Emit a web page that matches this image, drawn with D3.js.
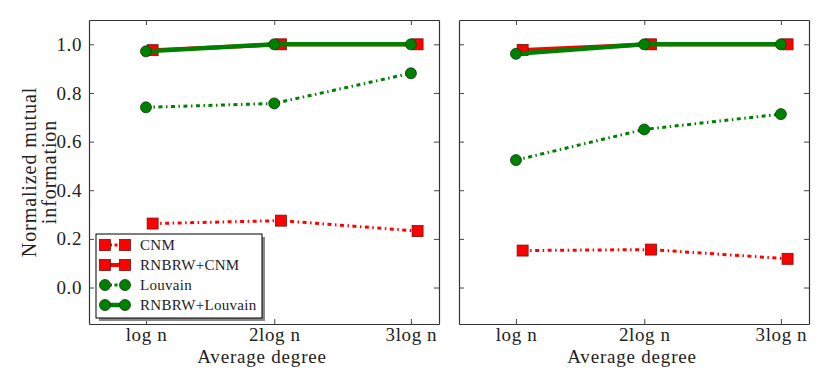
<!DOCTYPE html>
<html>
<head>
<meta charset="utf-8">
<script src="https://cdn.jsdelivr.net/npm/d3@7"></script>
<style>
  body { margin: 0; background: #fff; }
</style>
</head>
<body>
<svg id="drawing_region"></svg>
<script>
// x positions of the three average-degree settings (not evenly spaced in the figure)
const degreeValues = [1, 2, 3.065];
const degreeLabels = ['log n', '2log n', '3log n'];
const yTicks = [0.0, 0.2, 0.4, 0.6, 0.8, 1.0];

const seriesNames = ['CNM', 'RNBRW+CNM', 'Louvain', 'RNBRW+Louvain'];

// left panel
const leftCNM = [0.263, 0.275, 0.232];
const leftRnbrwCNM = [0.976, 1.0, 1.0];
const leftLouvain = [0.741, 0.757, 0.881];
const leftRnbrwLouvain = [0.971, 1.0, 1.0];

// right panel
const rightCNM = [0.152, 0.156, 0.118];
const rightRnbrwCNM = [0.977, 1.0, 1.0];
const rightLouvain = [0.524, 0.650, 0.713];
const rightRnbrwLouvain = [0.961, 1.0, 1.0];

const FONT = 'Liberation Serif';

const config = {
    width: 830,
    height: 388,
    top: 20,
    bottom: 324,
    panels: [
        { left: 89, right: 439, ylabels: true, legend: true,
          data: [leftCNM, leftRnbrwCNM, leftLouvain, leftRnbrwLouvain] },
        { left: 459, right: 809, ylabels: false, legend: false,
          data: [rightCNM, rightRnbrwCNM, rightLouvain, rightRnbrwLouvain] }
    ]
};

const styles = [
    { color: '#ff0000', dash: '4,3.5,1.5,3.5', width: 3, marker: 'square', shift: 0.052 },
    { color: '#ff0000', dash: null, width: 4, marker: 'square', shift: 0.052 },
    { color: '#008000', dash: '4,3.5,1.5,3.5', width: 3, marker: 'circle', shift: 0 },
    { color: '#008000', dash: null, width: 4.5, marker: 'circle', shift: 0 }
];

const svg = d3.select('#drawing_region')
    .attr('width', config.width)
    .attr('height', config.height);

function drawMarker(g, type, x, y, color) {
    if (type === 'square') {
        g.append('rect')
            .attr('x', x - 5.5).attr('y', y - 5.5)
            .attr('width', 11).attr('height', 11)
            .attr('fill', color)
            .attr('stroke', '#7a1010').attr('stroke-width', 0.8);
    } else {
        g.append('circle')
            .attr('cx', x).attr('cy', y).attr('r', 5.5)
            .attr('fill', color)
            .attr('stroke', '#0b3a0b').attr('stroke-width', 0.8);
    }
}

config.panels.forEach(p => {
    const xscale = d3.scaleLinear()
        .domain([0.556, 3.284])
        .range([p.left, p.right]);
    const yscale = d3.scaleLinear()
        .domain([-0.15, 1.1])
        .range([config.bottom, config.top]);

    const g = svg.append('g');

    // axes: inward ticks on every side
    const xb = d3.axisBottom(xscale).tickValues(degreeValues)
        .tickFormat((d, i) => degreeLabels[i]).tickSizeInner(-5).tickSizeOuter(0).tickPadding(3);
    const xt = d3.axisTop(xscale).tickValues(degreeValues)
        .tickFormat('').tickSizeInner(-5).tickSizeOuter(0);
    const yl = d3.axisLeft(yscale).tickValues(yTicks)
        .tickFormat(p.ylabels ? d3.format('.1f') : '').tickSizeInner(-5).tickSizeOuter(0).tickPadding(7);
    const yr = d3.axisRight(yscale).tickValues(yTicks)
        .tickFormat('').tickSizeInner(-5).tickSizeOuter(0);

    const axes = [
        g.append('g').attr('transform', `translate(0,${config.bottom})`).call(xb),
        g.append('g').attr('transform', `translate(0,${config.top})`).call(xt),
        g.append('g').attr('transform', `translate(${p.left},0)`).call(yl),
        g.append('g').attr('transform', `translate(${p.right},0)`).call(yr)
    ];
    axes.forEach(a => {
        a.attr('font-family', null).attr('font-size', null);
        a.select('.domain').attr('stroke', '#333').attr('stroke-width', 1.2);
        a.selectAll('.tick line').attr('stroke', '#444');
        a.selectAll('.tick text')
            .attr('font-family', FONT)
            .attr('font-size', 19)
            .attr('letter-spacing', 0.6)
            .attr('fill', '#222');
    });

    // series lines and markers
    p.data.forEach((vals, si) => {
        const st = styles[si];
        const line = d3.line()
            .x((d, i) => xscale(degreeValues[i] + st.shift))
            .y(d => yscale(d));
        g.append('path')
            .datum(vals)
            .attr('d', line)
            .attr('fill', 'none')
            .attr('stroke', st.color)
            .attr('stroke-width', st.width)
            .attr('stroke-dasharray', st.dash);
        const mg = g.append('g');
        vals.forEach((v, i) => drawMarker(mg, st.marker, xscale(degreeValues[i] + st.shift), yscale(v), st.color));
    });

    // x axis title
    g.append('text')
        .attr('x', (p.left + p.right) / 2 - 2)
        .attr('y', 363)
        .attr('text-anchor', 'middle')
        .attr('font-family', FONT)
        .attr('font-size', 19)
        .attr('letter-spacing', 0.8)
        .attr('fill', '#222')
        .text('Average degree');

    if (p.legend) {
        const lx = 96, ly = 234, lw = 166, lh = 84;
        const lg = g.append('g');
        lg.append('rect').attr('x', lx + 3).attr('y', ly + 3)
            .attr('width', lw).attr('height', lh).attr('fill', '#888');
        lg.append('rect').attr('x', lx).attr('y', ly)
            .attr('width', lw).attr('height', lh)
            .attr('fill', '#fff').attr('stroke', '#000').attr('stroke-width', 1);
        seriesNames.forEach((name, i) => {
            const st = styles[i];
            const y = ly + 11 + i * 20;
            lg.append('line')
                .attr('x1', lx + 9).attr('x2', lx + 29)
                .attr('y1', y).attr('y2', y)
                .attr('stroke', st.color).attr('stroke-width', st.width)
                .attr('stroke-dasharray', st.dash ? '3,2.5,1.5,2.5' : null);
            drawMarker(lg, st.marker, lx + 9, y, st.color);
            drawMarker(lg, st.marker, lx + 29, y, st.color);
            lg.append('text')
                .attr('x', lx + 44).attr('y', y + 5)
                .attr('font-family', FONT)
                .attr('font-size', 15)
                .attr('letter-spacing', 0.3)
                .attr('fill', '#222')
                .text(name);
        });
    }
});

// y axis title (two lines)
const ytitle = svg.append('text')
    .attr('transform', 'translate(0,172) rotate(-90)')
    .attr('text-anchor', 'middle')
    .attr('font-family', FONT)
    .attr('font-size', 20)
    .attr('letter-spacing', 0.9)
    .attr('fill', '#222');
ytitle.append('tspan').attr('x', 0).attr('y', 36).text('Normalized mutual');
ytitle.append('tspan').attr('x', 0).attr('y', 56).text('information');
</script>
</body>
</html>
